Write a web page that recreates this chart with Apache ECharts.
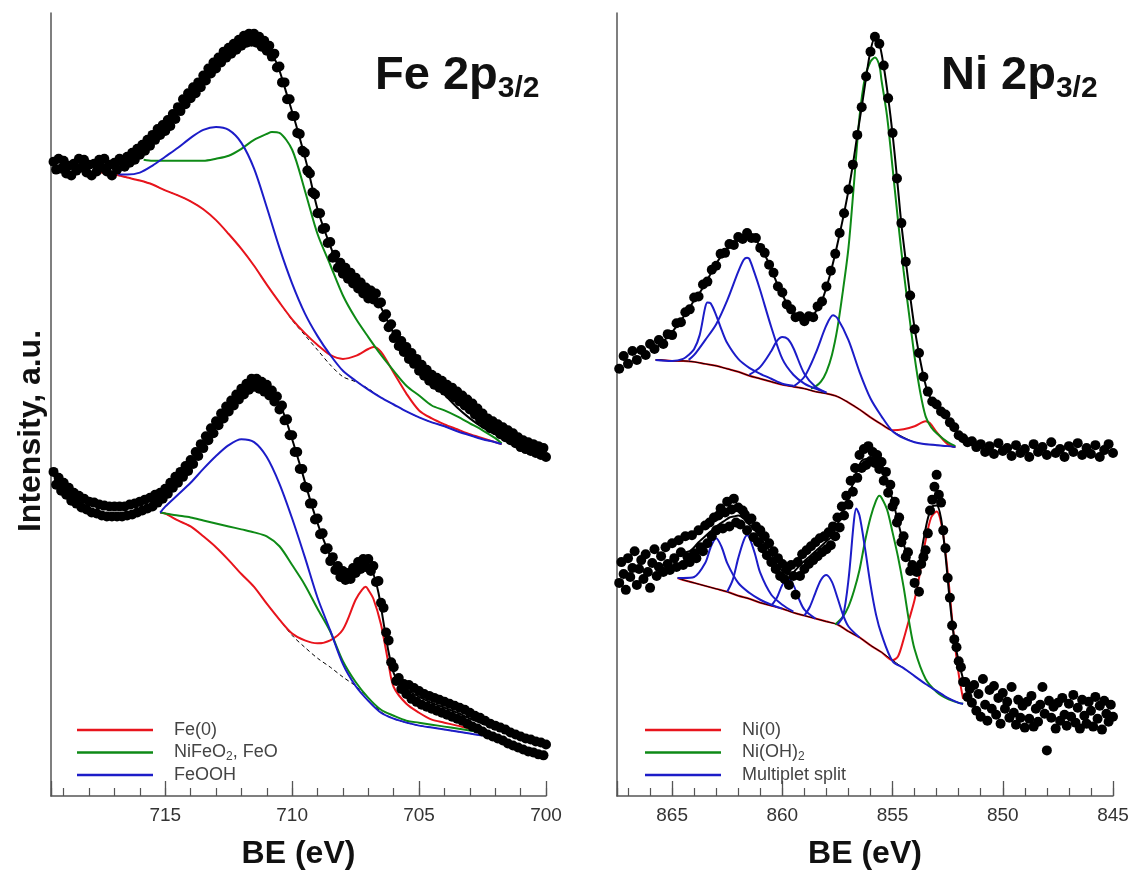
<!DOCTYPE html>
<html><head><meta charset="utf-8">
<script src="https://cdn.jsdelivr.net/npm/echarts@6/dist/echarts.min.js"></script>
<style>html,body{margin:0;padding:0;background:#fff}#chart{width:1132px;height:875px}</style>
</head><body><div id="chart"></div>
<script>
// ---------- axes / tick labels ----------
const feTicks = [715, 710, 705, 700];
const niTicks = [865, 860, 855, 850, 845];
const feRange = [700, 719.5];
const niRange = [845, 867.5];

// ---------- measured spectra on uniform energy grids ----------
// Fe spectra and lower Ni: start energy, step -0.1 eV ; upper Ni: step -0.2 eV
const feGridStart = 719.4, feGridStep = -0.1;
const niGridStart = 867.4, niTopStep = -0.2, niBotStep = -0.1;

const feTopCounts = [640,632,643,633,641,628,636,626,638,631,643,634,642,629,637,626,638,630,642,634,643,630,637,626,639,632,643,
641,635,645,639,649,642,653,647,657,651,662,656,667,662,673,667,677,671,682,676,
688,683,695,691,703,698,709,704,715,709,720,715,727,722,734,729,740,734,745,740,
751,745,755,749,759,753,763,757,767,760,769,761,769,760,766,756,762,752,757,746,
749,735,736,720,720,703,703,686,686,669,668,651,649,631,628,609,607,588,588,572,
573,558,559,543,546,533,538,527,533,522,528,517,523,512,518,507,513,502,510,501,
507,497,498,483,486,473,476,462,466,454,459,448,453,441,447,436,441,429,435,424,
430,419,425,415,422,412,419,409,415,405,412,402,408,398,404,394,400,390,396,385,
391,380,386,375,381,371,378,369,375,365,372,362,369,359,366,356,362,352,359,350,
357,348,355,346,353,344,351,342];

const feBotCounts = [327,314,321,308,316,304,311,298,306,295,303,291,300,289,297,286,296,285,294,283,
293,282,292,282,292,282,292,282,292,283,294,284,295,286,297,288,299,290,301,292,
304,296,306,300,310,305,316,311,322,316,327,322,333,328,339,335,347,343,355,351,
363,359,371,366,378,374,386,381,393,388,399,394,405,400,411,405,416,410,421,413,
421,411,418,408,415,404,409,398,403,390,394,379,380,364,364,347,347,330,330,312,
311,295,295,279,280,264,265,249,250,237,241,228,232,221,227,218,225,219,230,225,
236,229,239,231,239,227,232,216,217,195,190,165,157,135,130,116,119,108,113,103,
112,98,109,95,106,92,103,90,101,88,99,86,97,84,95,82,93,80,91,78,
89,76,87,73,84,70,81,68,79,65,76,62,73,60,71,58,69,56,67,53,
64,51,62,49,60,47,58,45,57,44,55,42,54,41,52];

const niTopCounts = [431,444,436,449,440,450,445,456,451,460,
456,466,465,477,478,488,491,503,504,516,
519,531,535,547,548,557,556,564,562,568,
563,563,553,548,536,528,514,508,496,491,
483,484,479,484,483,494,499,514,530,547,
568,588,612,637,667,695,726,751,766,759,
737,704,669,623,578,539,505,471,447,423,
408,398,395,388,385,377,372,364,361,357,
358,352,355,347,353,345,356,348,351,343,
354,346,350,342,355,347,352,344,357,346,
350,342,353,347,356,344,351,345,354,342,
349,355,346];

const niBotCounts = [215,236,224,208,240,221,230,247,213,229,238,219,244,226,210,235,249,222,231,242,
226,251,234,228,255,240,231,258,246,233,262,241,236,263,245,240,268,251,247,273,
255,276,262,281,268,283,290,270,286,297,272,289,300,276,291,274,288,284,268,279,
280,261,272,256,268,250,262,243,255,236,247,229,240,222,234,219,229,213,233,222,
203,236,222,244,229,248,234,252,238,256,242,260,246,262,249,266,253,272,262,281,
271,292,283,303,294,318,307,331,321,344,331,350,334,353,338,347,336,344,330,337,
318,327,306,314,292,297,276,281,256,262,241,246,227,233,215,226,206,234,241,248,
265,288,299,312,324,304,296,268,250,220,200,172,158,150,136,130,115,115,100,108,
94,112,86,103,80,118,92,76,107,88,111,82,99,73,104,88,95,79,110,84,
72,97,79,91,69,95,78,101,70,88,75,92,110,83,46,96,79,90,68,94,
76,99,82,71,93,80,102,74,89,68,97,81,73,95,86,70,100,78,91,67,96,83,75,92,80];

// ---------- fitted curves [BE, intensity] ----------
const feTopEnvelope = [[717.8,631],[717.2,633],[716.6,639],[716.2,646],[715.8,655],[715.4,666],[715.0,675],[714.6,687],[714.2,702],[713.8,713],[713.4,726],[713.0,738],[712.6,749],[712.2,757],[711.8,764],[711.4,764],[711.0,756],[710.6,739],[710.2,707],[709.8,673],[709.4,635],[709.0,592],[708.6,562],[708.2,537],[707.8,526],[707.4,516],[707.0,506],[706.8,504],[706.6,498],[706.2,477],[705.8,457],[705.4,441],[705.0,429],[704.5,417],[704.0,405],[703.5,392],[703.0,381],[702.5,372],[702.0,365],[701.8,362]];
const feTopBackground = [[717.75,630],[717.0,627],[716.5,624],[716.0,621],[715.5,617],[715.0,611],[714.5,606],[714.0,600],[713.5,592],[713.0,581],[712.5,567],[712.0,552],[711.5,535],[711.0,516],[710.5,498],[710.0,480],[709.5,465],[709.0,450],[708.5,435],[708.0,423],[707.5,418],[707.0,411],[706.5,402],[706.0,395],[705.5,388],[705.0,382],[704.5,377],[704.0,373],[703.5,368],[703.0,364],[702.5,360],[702.0,357],[701.75,355]];
const feTopFe0 = [[717.75,630],[717.0,627],[716.5,624],[716.0,621],[715.5,617],[715.0,611],[714.5,606],[714.0,600],[713.5,592],[713.0,581],[712.5,567],[712.0,552],[711.5,535],[711.0,516],[710.5,498],[710.0,481],[709.5,467],[709.0,455],[708.5,445],[708.0,441],[707.5,444],[707.0,451],[706.8,453],[706.5,448],[706.0,427],[705.5,406],[705.0,389],[704.5,381],[704.0,375],[703.5,370],[703.0,365],[702.5,361],[702.0,357],[701.75,355]];
const feTopFeO = [[715.85,642],[715.5,641],[715.0,641],[714.5,641],[714.0,641],[713.5,641],[713.0,643],[712.5,646],[712.0,653],[711.5,662],[711.0,668],[710.8,670],[710.5,669],[710.0,652],[709.5,611],[709.0,567],[708.5,536],[708.0,505],[707.5,482],[707.0,463],[706.5,445],[706.0,429],[705.5,414],[705.0,404],[704.5,394],[704.0,389],[703.5,383],[703.0,376],[702.5,369],[702.0,361],[701.75,356]];
const feTopFeOOH = [[716.85,627],[716.5,627],[716.0,629],[715.5,636],[715.0,645],[714.5,654],[714.0,664],[713.5,672],[713.0,675],[712.5,672],[712.0,659],[711.5,633],[711.0,594],[710.5,553],[710.0,517],[709.5,487],[709.0,464],[708.5,445],[708.0,429],[707.5,419],[707.0,410],[706.5,402],[706.0,395],[705.5,388],[705.0,382],[704.5,377],[704.0,373],[703.5,368],[703.0,364],[702.5,360],[702.0,357],[701.75,355]];

const feBotEnvelope = [[715.2,302],[714.8,312],[714.4,323],[714.0,335],[713.6,351],[713.2,367],[712.8,382],[712.4,395],[712.0,407],[711.6,417],[711.2,414],[710.8,405],[710.4,390],[710.0,360],[709.6,326],[709.2,291],[708.8,261],[708.4,237],[708.0,223],[707.8,221],[707.6,226],[707.4,232],[707.2,235],[707.0,233],[706.8,224],[706.6,205],[706.4,175],[706.2,145],[706.0,124],[705.8,115],[705.4,106],[705.0,100],[704.6,95],[704.2,91],[703.8,87],[703.4,83],[703.0,78],[702.5,73]];
const feBotBackground = [[715.2,286],[715.0,285],[714.5,278],[714.0,272],[713.5,262],[713.0,251],[712.5,238],[712.0,224],[711.5,211],[711.0,194],[710.5,178],[710.0,162],[709.5,150],[709.0,139],[708.5,130],[708.0,120],[707.5,111],[707.0,99],[706.5,85],[706.0,78],[705.5,74],[705.0,71],[704.5,69],[704.0,67],[703.5,65],[703.0,63],[702.5,61]];
const feBotFe0 = [[715.2,286],[715.0,285],[714.5,278],[714.0,272],[713.5,262],[713.0,251],[712.5,238],[712.0,224],[711.5,211],[711.0,194],[710.5,178],[710.0,164],[709.5,157],[709.0,154],[708.5,157],[708.0,168],[707.5,198],[707.25,208],[707.1,211],[707.0,208],[706.8,199],[706.5,173],[706.2,133],[706.0,110],[705.5,93],[705.0,84],[704.5,77],[704.0,74],[703.5,71],[703.0,68],[702.5,64]];
const feBotFeO = [[715.2,286],[715.0,285],[714.5,283],[714.0,281],[713.5,278],[713.0,275],[712.5,272],[712.0,269],[711.5,266],[711.0,262],[710.5,252],[710.0,233],[709.5,213],[709.0,189],[708.5,166],[708.0,136],[707.5,115],[707.0,99],[706.5,87],[706.0,81],[705.5,76],[705.0,74],[704.5,72],[704.0,70],[703.5,68],[703.0,66],[702.5,64]];
const feBotFeOOH = [[715.2,286],[715.0,292],[714.5,304],[714.0,316],[713.5,330],[713.0,343],[712.5,354],[712.0,360],[711.5,357],[711.0,342],[710.5,315],[710.0,280],[709.5,241],[709.0,200],[708.5,167],[708.0,133],[707.5,111],[707.0,96],[706.5,84],[706.0,78],[705.5,74],[705.0,71],[704.5,69],[704.0,67],[703.5,65],[703.0,63],[702.5,61]];

const niTopEnvelope = [[865.75,448],[865.6,455],[865.4,459],[865.2,463],[865.0,468],[864.8,474],[864.6,480],[864.4,486],[864.2,493],[864.0,500],[863.8,506],[863.6,513],[863.4,521],[863.2,529],[863.0,537],[862.8,544],[862.6,550],[862.4,554],[862.2,558],[862.0,561],[861.8,564],[861.6,566],[861.4,564],[861.2,561],[861.0,554],[860.8,546],[860.6,537],[860.4,526],[860.2,515],[860.0,506],[859.8,497],[859.6,489],[859.4,484],[859.2,481],[859.0,481],[858.8,482],[858.6,485],[858.4,492],[858.2,500],[858.0,513],[857.8,529],[857.6,547],[857.4,567],[857.2,588],[857.0,611],[856.8,637],[856.6,667],[856.4,695],[856.2,725],[856.0,752],[855.8,765],[855.6,759],[855.4,736],[855.2,705],[855.0,668],[854.8,624],[854.6,577],[854.4,540],[854.2,504],[854.0,472],[853.8,446],[853.6,424],[853.4,407],[853.2,399],[853.0,394],[852.8,389],[852.6,384],[852.4,378],[852.15,370]];
const niTopBackground = [[865.75,440],[865.5,440],[865.0,439],[864.5,439],[864.0,438],[863.5,436],[863.0,434],[862.5,431],[862.0,428],[861.5,424],[861.0,421],[860.5,418],[860.0,415],[859.5,413],[859.0,411],[858.5,408],[858.0,406],[857.5,403],[857.0,397],[856.5,390],[856.0,382],[855.5,375],[855.0,368],[854.5,362],[854.0,357],[853.5,355],[853.0,354],[852.5,353],[852.15,352]];
const niTopNi0 = [[865.75,440],[865.5,440],[865.0,439],[864.5,439],[864.0,438],[863.5,436],[863.0,434],[862.5,431],[862.0,428],[861.5,424],[861.0,421],[860.5,418],[860.0,415],[859.5,413],[859.0,411],[858.5,408],[858.0,406],[857.5,403],[857.0,397],[856.5,390],[856.0,382],[855.5,375],[855.0,369],[854.5,370],[854.0,373],[853.5,378],[853.3,376],[853.0,367],[852.5,355],[852.15,352]];
const niTopNiOH = [[858.7,411],[858.5,413],[858.25,418],[858.0,428],[857.75,445],[857.5,472],[857.25,510],[857.0,553],[856.75,618],[856.5,685],[856.25,725],[856.0,741],[855.8,745],[855.6,737],[855.5,722],[855.25,686],[855.0,634],[854.75,580],[854.5,530],[854.25,486],[854.0,443],[853.75,408],[853.5,383],[853.25,372],[853.0,366],[852.5,357],[852.15,353]];
const niTopSplit1 = [[865.75,440],[865.0,439],[864.5,441],[864.25,445],[864.0,451],[863.75,465],[863.5,493],[863.4,498],[863.25,497],[863.0,485],[862.75,470],[862.5,457],[862.0,441],[861.5,432],[861.0,426],[860.5,421],[860.0,416],[859.5,414]];
const niTopSplit2 = [[864.25,440],[864.0,445],[863.5,460],[863.0,476],[862.5,500],[862.0,529],[861.75,541],[861.6,543],[861.5,542],[861.25,527],[861.0,510],[860.5,473],[860.0,441],[859.5,425],[859.0,416],[858.5,411],[858.0,407]];
const niTopSplit3 = [[861.5,425],[861.0,433],[860.5,449],[860.25,459],[860.0,463],[859.75,461],[859.5,452],[859.0,426],[858.5,413],[858.0,407]];
const niTopSplit4 = [[859.5,413],[859.0,423],[858.5,446],[858.0,475],[857.7,485],[857.5,482],[857.0,460],[856.5,428],[856.0,401],[855.5,383],[855.0,368],[854.5,361],[854.0,357],[853.5,355],[853.0,354],[852.5,353],[852.15,352]];

const niBotEnvelope = [[864.8,238],[864.6,245],[864.4,246],[864.2,247],[864.0,251],[863.8,256],[863.6,260],[863.4,264],[863.2,268],[863.0,272],[862.8,275],[862.6,278],[862.4,281],[862.2,282],[862.0,283],[861.8,281],[861.6,276],[861.4,272],[861.2,267],[861.0,261],[860.8,254],[860.6,248],[860.4,240],[860.2,232],[860.0,227],[859.8,224],[859.6,224],[859.4,228],[859.2,233],[859.0,237],[858.8,241],[858.6,245],[858.4,249],[858.2,253],[858.0,257],[857.8,261],[857.6,269],[857.4,279],[857.2,290],[857.0,301],[856.8,315],[856.6,329],[856.4,338],[856.2,340],[856.0,340],[855.8,340],[855.6,333],[855.4,325],[855.2,312],[855.0,299],[854.8,281],[854.6,263],[854.4,247],[854.2,236],[854.0,228],[853.8,234],[853.6,258],[853.4,280],[853.2,292],[853.0,293],[852.8,280],[852.6,243],[852.4,196],[852.2,158],[852.0,136],[851.8,118]];
const niBotBackground = [[864.75,220],[864.5,218],[864.0,215],[863.5,212],[863.0,209],[862.5,206],[862.0,202],[861.5,199],[861.0,195],[860.5,192],[860.0,189],[859.5,185],[859.0,182],[858.5,179],[858.0,176],[857.5,173],[857.0,166],[856.5,160],[856.0,152],[855.5,145],[855.0,137],[854.5,129],[854.0,121],[853.5,113],[853.0,106],[852.5,99],[852.0,94],[851.8,93]];
const niBotNi0 = [[864.75,220],[864.5,218],[864.0,215],[863.5,212],[863.0,209],[862.5,206],[862.0,202],[861.5,199],[861.0,195],[860.5,192],[860.0,189],[859.5,185],[859.0,182],[858.5,179],[858.0,176],[857.5,173],[857.0,166],[856.5,160],[856.0,152],[855.5,145],[855.0,137],[854.75,141],[854.5,158],[854.25,178],[854.0,198],[853.75,226],[853.5,258],[853.25,281],[853.0,287],[852.75,270],[852.5,226],[852.25,168],[852.0,123],[851.8,98]];
const niBotNiOH = [[857.6,173],[857.25,181],[857.0,191],[856.75,207],[856.5,228],[856.25,257],[856.0,281],[855.75,298],[855.6,303],[855.5,301],[855.25,289],[855.0,266],[854.75,241],[854.5,211],[854.25,176],[854.0,148],[853.5,118],[853.0,105],[852.5,98],[852.0,94],[851.8,93]];
const niBotSplit1 = [[864.75,220],[864.5,220],[864.0,221],[863.5,235],[863.25,251],[863.0,260],[862.75,251],[862.5,235],[862.0,215],[861.5,205],[861.0,198],[860.5,193],[860.0,189]];
const niBotSplit2 = [[862.5,206],[862.25,218],[862.0,240],[861.75,258],[861.6,263],[861.5,261],[861.25,245],[861.0,225],[860.5,203],[860.0,193],[859.5,186]];
const niBotSplit3 = [[860.5,192],[860.25,200],[860.0,213],[859.75,220],[859.5,213],[859.25,199],[859.0,188],[858.5,179]];
const niBotSplit4 = [[859.0,182],[858.75,191],[858.5,205],[858.25,218],[858.0,223],[857.75,216],[857.5,200],[857.25,183],[857.0,171],[856.5,160]];
const niBotSplit5 = [[857.5,173],[857.25,181],[857.0,218],[856.75,278],[856.65,290],[856.5,283],[856.25,250],[856.0,213],[855.75,183],[855.5,163],[855.0,136],[854.5,129],[854.0,121],[853.5,113],[853.0,106],[852.5,99],[852.0,94],[851.8,93]];

// ---------- chart ----------
const FONT = '"Liberation Sans", Arial, Helvetica, sans-serif';
const RED = '#e8141c', GREEN = '#0e8a16', BLUE = '#1c1cc8';

function gridPoints(start, step, counts) { return counts.map((v, i) => [+(start + i * step).toFixed(2), v]); }

function majorAxis(gi, range, ticks) {
  return { type: 'value', gridIndex: gi, min: range[0], max: range[1], inverse: true, interval: 5,
    position: 'bottom', name: 'BE (eV)', nameLocation: 'middle', nameGap: 42,
    nameTextStyle: { fontSize: 32, fontWeight: 'bold', color: '#111', fontFamily: FONT },
    axisLine: { show: true, onZero: false, lineStyle: { color: '#555', width: 1.5 } },
    axisTick: { show: true, inside: true, length: 15, lineStyle: { color: '#555', width: 1.3 } },
    axisLabel: { show: true, margin: 10, fontSize: 19, color: '#333', fontFamily: FONT,
      formatter: v => (ticks.indexOf(v) >= 0 ? String(v) : '') },
    splitLine: { show: false } };
}
function minorAxis(gi, range) {
  return { type: 'value', gridIndex: gi, min: range[0], max: range[1], inverse: true, interval: 1,
    position: 'bottom', axisLine: { show: false, onZero: false },
    axisTick: { show: true, inside: true, length: 8, lineStyle: { color: '#555', width: 1.2 } },
    axisLabel: { show: false }, splitLine: { show: false } };
}
function yAxis(gi) {
  return { type: 'value', gridIndex: gi, min: 0, max: 790,
    axisLine: { show: true, onZero: false, lineStyle: { color: '#555', width: 1.5 } },
    axisTick: { show: false }, axisLabel: { show: false }, splitLine: { show: false } };
}
function curve(name, data, color, xi, yi, width, z, dashed) {
  return { type: 'line', name, data, xAxisIndex: xi, yAxisIndex: yi, smooth: 0.3, symbol: 'none',
    lineStyle: { color, width, type: dashed ? [4, 3] : 'solid' }, itemStyle: { color },
    z, silent: true, animation: false, emphasis: { disabled: true } };
}
function dots(data, xi, yi, size) {
  return { type: 'scatter', data, xAxisIndex: xi, yAxisIndex: yi, symbol: 'circle', symbolSize: size,
    itemStyle: { color: '#000', opacity: 1 }, z: 3, silent: true, animation: false };
}

const legendBase = { orient: 'vertical', icon: 'rect', itemWidth: 76, itemHeight: 2.5, itemGap: 2.5, top: 715,
  selectedMode: false,
  formatter: n => n.replace(/O2/, 'O{sub|2}').replace(/\)2/, '){sub|2}'),
  textStyle: { fontSize: 18, color: '#444', fontFamily: FONT, lineHeight: 20, padding: [0, 0, 0, 16],
    rich: { sub: { fontSize: 12, color: '#444', fontFamily: FONT, verticalAlign: 'bottom', lineHeight: 14 } } } };

const titleRich = { m: { fontSize: 47, fontWeight: 'bold', color: '#111', fontFamily: FONT, lineHeight: 56 },
  s: { fontSize: 30, fontWeight: 'bold', color: '#111', fontFamily: FONT, lineHeight: 30, verticalAlign: 'bottom' } };

const option = {
  animation: false,
  backgroundColor: '#fff',
  title: [
    { text: '{m|Fe 2p}{s|3/2}', left: 375, top: 48, padding: 0, textStyle: { rich: titleRich } },
    { text: '{m|Ni 2p}{s|3/2}', left: 941, top: 48, padding: 0, textStyle: { rich: titleRich } }
  ],
  grid: [
    { left: 51, right: 586, top: 13, bottom: 72 },
    { left: 617, right: 19, top: 13, bottom: 72 }
  ],
  xAxis: [majorAxis(0, feRange, feTicks), minorAxis(0, feRange), majorAxis(1, niRange, niTicks), minorAxis(1, niRange)],
  yAxis: [yAxis(0), yAxis(1)],
  legend: [
    Object.assign({}, legendBase, { left: 72, data: ['Fe(0)', 'NiFeO2, FeO', 'FeOOH'] }),
    Object.assign({}, legendBase, { left: 640, data: ['Ni(0)', 'Ni(OH)2', 'Multiplet split'] })
  ],
  graphic: [
    { type: 'text', x: 31, y: 431, rotation: Math.PI / 2,
      style: { text: 'Intensity, a.u.', fontSize: 32, fontWeight: 'bold', fontFamily: FONT, fill: '#111',
        align: 'center', verticalAlign: 'middle' } }
  ],
  series: [
    curve('feTopBg', feTopBackground, '#000', 0, 0, 1, 2, true),
    curve('Fe(0)', feTopFe0, RED, 0, 0, 2, 2),
    curve('NiFeO2, FeO', feTopFeO, GREEN, 0, 0, 2, 2),
    curve('FeOOH', feTopFeOOH, BLUE, 0, 0, 2, 2),
    curve('feBotBg', feBotBackground, '#000', 0, 0, 1, 2, true),
    curve('Fe(0)', feBotFe0, RED, 0, 0, 2, 2),
    curve('NiFeO2, FeO', feBotFeO, GREEN, 0, 0, 2, 2),
    curve('FeOOH', feBotFeOOH, BLUE, 0, 0, 2, 2),
    dots(gridPoints(feGridStart, feGridStep, feTopCounts), 0, 0, 10),
    dots(gridPoints(feGridStart, feGridStep, feBotCounts), 0, 0, 10),
    curve('feTopFit', feTopEnvelope, '#000', 0, 0, 2, 4),
    curve('feBotFit', feBotEnvelope, '#000', 0, 0, 2, 4),
    curve('Ni(0)', niTopNi0, RED, 2, 1, 2, 2),
    curve('niTopBg', niTopBackground, '#000', 2, 1, 1, 2),
    curve('Ni(OH)2', niTopNiOH, GREEN, 2, 1, 2, 2),
    curve('Multiplet split', niTopSplit1, BLUE, 2, 1, 2, 2),
    curve('Multiplet split', niTopSplit2, BLUE, 2, 1, 2, 2),
    curve('Multiplet split', niTopSplit3, BLUE, 2, 1, 2, 2),
    curve('Multiplet split', niTopSplit4, BLUE, 2, 1, 2, 2),
    curve('Ni(0)', niBotNi0, RED, 2, 1, 2, 2),
    curve('niBotBg', niBotBackground, '#000', 2, 1, 1, 2),
    curve('Ni(OH)2', niBotNiOH, GREEN, 2, 1, 2, 2),
    curve('Multiplet split', niBotSplit1, BLUE, 2, 1, 2, 2),
    curve('Multiplet split', niBotSplit2, BLUE, 2, 1, 2, 2),
    curve('Multiplet split', niBotSplit3, BLUE, 2, 1, 2, 2),
    curve('Multiplet split', niBotSplit4, BLUE, 2, 1, 2, 2),
    curve('Multiplet split', niBotSplit5, BLUE, 2, 1, 2, 2),
    dots(gridPoints(niGridStart, niTopStep, niTopCounts), 2, 1, 10),
    dots(gridPoints(niGridStart, niBotStep, niBotCounts), 2, 1, 10),
    curve('niTopFit', niTopEnvelope, '#000', 2, 1, 2, 4),
    curve('niBotFit', niBotEnvelope, '#000', 2, 1, 2, 4)
  ]
};

const chart = echarts.init(document.getElementById('chart'), null, { renderer: 'canvas' });
chart.setOption(option);
</script></body></html>
